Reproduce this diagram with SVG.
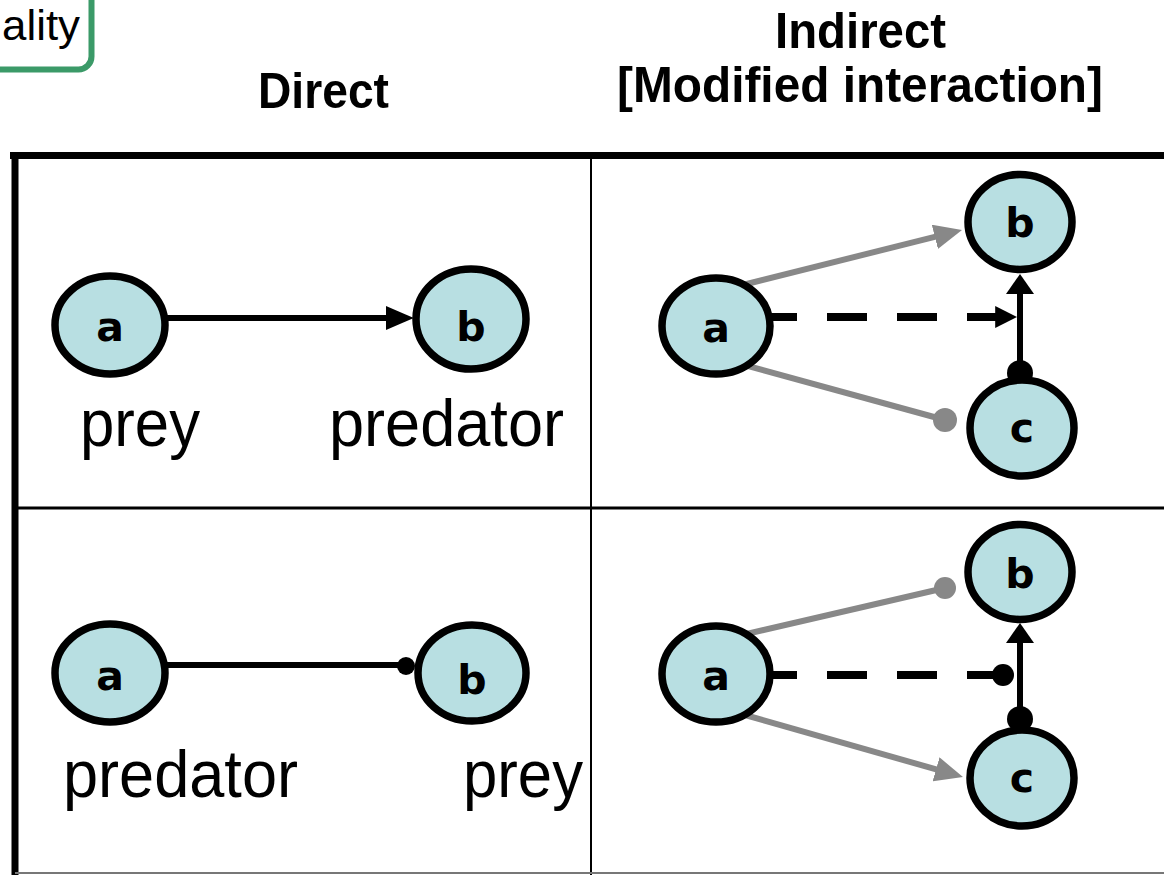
<svg xmlns="http://www.w3.org/2000/svg" width="1164" height="875" viewBox="0 0 1164 875">
<style>
.node ellipse{fill:#b8dfe2;stroke:#000;stroke-width:7.5}
.node text{font-family:"DejaVu Sans","Liberation Sans",sans-serif;font-weight:bold;font-size:41px;text-anchor:middle;fill:#000}
.blk{stroke:#000;stroke-width:6;fill:none}
.dash{stroke:#000;stroke-width:8;fill:none;stroke-dasharray:40 30}
.gry{stroke:#888;stroke-width:6;fill:none}
.dotb{fill:#000}
.dotg{fill:#888}
.hdr{font-family:"Liberation Sans",Arial,sans-serif;font-weight:bold;font-size:50px;text-anchor:middle;fill:#000}
.lbl{font-family:"Liberation Sans",Arial,sans-serif;font-size:66px;fill:#000}
.grid{stroke:#000;fill:none}
</style>
<defs>
<marker id="arrB" markerUnits="userSpaceOnUse" viewBox="0 0 10 10" refX="4" refY="5" markerWidth="28" markerHeight="24" orient="auto" preserveAspectRatio="none"><path d="M0,0 L10,5 L0,10 z" fill="#000"/></marker>
<marker id="arrBs" markerUnits="userSpaceOnUse" viewBox="0 0 10 10" refX="4" refY="5" markerWidth="22" markerHeight="22" orient="auto" preserveAspectRatio="none"><path d="M0,0 L10,5 L0,10 z" fill="#000"/></marker>
<marker id="arrV" markerUnits="userSpaceOnUse" viewBox="0 0 10 10" refX="4" refY="5" markerWidth="20" markerHeight="28" orient="auto" preserveAspectRatio="none"><path d="M0,0 L10,5 L0,10 z" fill="#000"/></marker>
<marker id="arrG" markerUnits="userSpaceOnUse" viewBox="0 0 10 10" refX="4" refY="5" markerWidth="28" markerHeight="25" orient="auto" preserveAspectRatio="none"><path d="M0,0 L10,5 L0,10 z" fill="#888"/></marker>
</defs>

<g id="legend-box">
<rect x="-30" y="-30" width="121.5" height="99.5" rx="13" fill="#fff" stroke="#3b9a68" stroke-width="6"/>
<text x="2" y="40" font-family="'Liberation Sans',Arial,sans-serif" font-size="42" textLength="78" lengthAdjust="spacingAndGlyphs">ality</text>
</g>

<g id="headers">
<text class="hdr" x="323.5" y="108" textLength="131" lengthAdjust="spacingAndGlyphs">Direct</text>
<text class="hdr" x="860.5" y="48" textLength="171" lengthAdjust="spacingAndGlyphs">Indirect</text>
<text class="hdr" x="860" y="102" textLength="486" lengthAdjust="spacingAndGlyphs">[Modified interaction]</text>
</g>

<g id="table">
<line class="grid" x1="10" y1="155.5" x2="1164" y2="155.5" stroke-width="7"/>
<line class="grid" x1="15" y1="152" x2="15" y2="875" stroke-width="7"/>
<line class="grid" x1="15" y1="508" x2="1164" y2="508" stroke-width="3"/>
<line class="grid" x1="591" y1="155" x2="591" y2="875" stroke-width="2"/>
<line x1="15" y1="873" x2="1164" y2="873" stroke="#777" stroke-width="2"/>
</g>

<g id="connectors">
<line class="blk" x1="165" y1="318" x2="397" y2="318" marker-end="url(#arrB)"/>
<line class="blk" x1="165" y1="665" x2="405" y2="665"/>
<circle class="dotb" cx="406" cy="666" r="9"/>
<line class="gry" x1="730.7" y1="288" x2="945.7" y2="234.1" marker-end="url(#arrG)"/>
<line class="gry" x1="731" y1="361.4" x2="945" y2="420"/>
<circle class="dotg" cx="945" cy="420" r="12"/>
<line class="dash" x1="757" y1="317" x2="1004" y2="317" marker-end="url(#arrBs)"/>
<line class="blk" x1="1020" y1="374" x2="1020" y2="286" stroke-width="7" marker-end="url(#arrV)"/>
<circle class="dotb" cx="1020" cy="373" r="13"/>
<line class="gry" x1="730.6" y1="637.6" x2="945" y2="588"/>
<circle class="dotg" cx="945" cy="588" r="11"/>
<line class="gry" x1="731" y1="711" x2="946.8" y2="772.4" marker-end="url(#arrG)"/>
<line class="dash" x1="757" y1="675" x2="1003" y2="675"/>
<circle class="dotb" cx="1003" cy="675" r="11"/>
<line class="blk" x1="1020" y1="720" x2="1020" y2="635" stroke-width="7" marker-end="url(#arrV)"/>
<circle class="dotb" cx="1020" cy="719" r="13"/>
</g>

<g id="tl-a" class="node"><ellipse cx="110" cy="325" rx="55" ry="49"/><text x="110" y="341">a</text></g>
<g id="tl-b" class="node"><ellipse cx="471" cy="319" rx="55" ry="50"/><text x="471" y="341">b</text></g>
<g id="bl-a" class="node"><ellipse cx="110" cy="673" rx="55" ry="49"/><text x="110" y="690">a</text></g>
<g id="bl-b" class="node"><ellipse cx="472" cy="673" rx="54" ry="48"/><text x="472" y="694">b</text></g>

<g id="tr-a" class="node"><ellipse cx="716" cy="326" rx="54" ry="48"/><text x="716" y="342">a</text></g>
<g id="tr-b" class="node"><ellipse cx="1020" cy="222" rx="52" ry="47.5"/><text x="1020" y="237">b</text></g>
<g id="tr-c" class="node"><ellipse cx="1022" cy="428" rx="52" ry="48"/><text x="1022" y="442">c</text></g>

<g id="br-a" class="node"><ellipse cx="716" cy="674" rx="54" ry="48"/><text x="716" y="690">a</text></g>
<g id="br-b" class="node"><ellipse cx="1020" cy="572" rx="52" ry="47.5"/><text x="1020" y="588">b</text></g>
<g id="br-c" class="node"><ellipse cx="1022" cy="778" rx="52" ry="48"/><text x="1022" y="792">c</text></g>

<g id="labels">
<text class="lbl" x="80" y="446" textLength="120" lengthAdjust="spacingAndGlyphs">prey</text>
<text class="lbl" x="329" y="446" textLength="235" lengthAdjust="spacingAndGlyphs">predator</text>
<text class="lbl" x="63" y="797" textLength="235" lengthAdjust="spacingAndGlyphs">predator</text>
<text class="lbl" x="463" y="797" textLength="120" lengthAdjust="spacingAndGlyphs">prey</text>
</g>
</svg>
